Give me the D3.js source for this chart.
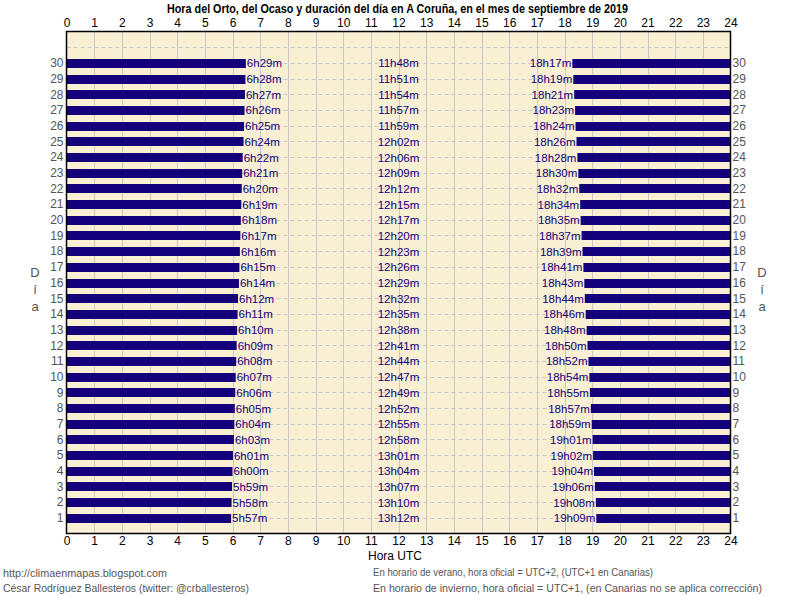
<!DOCTYPE html>
<html><head><meta charset="utf-8">
<script src="https://cdn.jsdelivr.net/npm/d3@7"></script>
<style>body{margin:0;background:#fff}svg{display:block}text{font-family:"Liberation Sans",Arial,sans-serif}</style>
</head><body>
<svg id="c" width="796" height="596"></svg>
<script>
const days = d3.range(1, 31);
const sunrise = ["5h57m","5h58m","5h59m","6h00m","6h01m","6h03m","6h04m","6h05m","6h06m","6h07m","6h08m","6h09m","6h10m","6h11m","6h12m","6h14m","6h15m","6h16m","6h17m","6h18m","6h19m","6h20m","6h21m","6h22m","6h24m","6h25m","6h26m","6h27m","6h28m","6h29m"];
const dayLength = ["13h12m","13h10m","13h07m","13h04m","13h01m","12h58m","12h55m","12h52m","12h49m","12h47m","12h44m","12h41m","12h38m","12h35m","12h32m","12h29m","12h26m","12h23m","12h20m","12h17m","12h15m","12h12m","12h09m","12h06m","12h02m","11h59m","11h57m","11h54m","11h51m","11h48m"];
const sunset = ["19h09m","19h08m","19h06m","19h04m","19h02m","19h01m","18h59m","18h57m","18h55m","18h54m","18h52m","18h50m","18h48m","18h46m","18h44m","18h43m","18h41m","18h39m","18h37m","18h35m","18h34m","18h32m","18h30m","18h28m","18h26m","18h24m","18h23m","18h21m","18h19m","18h17m"];
const hourTicks = d3.range(0, 25);

const parse = s => { const m = s.match(/(\d+)h(\d+)m/); return +m[1] + +m[2]/60; };
const data = days.map((d,i)=>({day:d, rise:parse(sunrise[i]), set:parse(sunset[i]), riseL:sunrise[i], lenL:dayLength[i], setL:sunset[i]}));

const svg = d3.select("#c");
const L=66.5, R=730.5, T=31.5, B=533.5;
const x = d3.scaleLinear().domain([0,24]).range([L,R]);
const y = d3.scaleLinear().domain([0,32]).range([B,T]);
const navy = "#14007a";

svg.append("rect").attr("x",L).attr("y",T).attr("width",R-L).attr("height",B-T).attr("fill","#f9f0d3");

// vertical grid
svg.append("g").selectAll("line").data(hourTicks.slice(1,-1)).join("line")
  .attr("x1",d=>Math.round(x(d))+0.5).attr("x2",d=>Math.round(x(d))+0.5)
  .attr("y1",T).attr("y2",B).attr("stroke","#c8c8c8").attr("stroke-width",1);
// horizontal dashed grid
svg.append("g").selectAll("line").data(d3.range(1,32)).join("line")
  .attr("x1",L).attr("x2",R)
  .attr("y1",d=>Math.round(y(d))+0.5).attr("y2",d=>Math.round(y(d))+0.5)
  .attr("stroke","#c8c8c8").attr("stroke-dasharray","4,3");

const bh = 9;
const g = svg.append("g");
g.selectAll("rect.r").data(data).join("rect").attr("class","r")
  .attr("x",x(0)).attr("y",d=>Math.round(y(d.day))-bh/2+0.5).attr("width",d=>x(d.rise)-x(0)).attr("height",bh).attr("fill",navy);
g.selectAll("rect.s").data(data).join("rect").attr("class","s")
  .attr("x",d=>x(d.set)).attr("y",d=>Math.round(y(d.day))-bh/2+0.5).attr("width",d=>x(24)-x(d.set)).attr("height",bh).attr("fill",navy);

const fs = "11.5px";
g.selectAll("text.rl").data(data).join("text").attr("class","rl")
  .attr("x",d=>x(d.rise)+1).attr("y",d=>y(d.day)+4.5).attr("font-size",fs).attr("fill",navy).text(d=>d.riseL);
g.selectAll("text.ll").data(data).join("text").attr("class","ll")
  .attr("x",x(12)).attr("y",d=>y(d.day)+4.5).attr("text-anchor","middle").attr("font-size",fs).attr("fill",navy).text(d=>d.lenL);
g.selectAll("text.sl").data(data).join("text").attr("class","sl")
  .attr("x",d=>x(d.set)-1).attr("y",d=>y(d.day)+4.5).attr("text-anchor","end").attr("font-size",fs).attr("fill",navy).text(d=>d.setL);

svg.append("rect").attr("x",L).attr("y",T).attr("width",R-L).attr("height",B-T).attr("fill","none").attr("stroke","#000").attr("stroke-width",1.5);

// axes
const topAx = svg.append("g").attr("transform",`translate(0,${T})`).call(d3.axisTop(x).tickValues(hourTicks).tickFormat(d3.format("d")).tickSize(0).tickPadding(5));
const botAx = svg.append("g").attr("transform",`translate(0,${B})`).call(d3.axisBottom(x).tickValues(hourTicks).tickFormat(d3.format("d")).tickSize(0).tickPadding(3));
[topAx,botAx].forEach(a=>{a.select(".domain").remove(); a.selectAll("text").attr("font-size","12px").attr("fill","#000").attr("font-family","Liberation Sans, Arial, sans-serif");});
const leftAx = svg.append("g").attr("transform",`translate(${L},0)`).call(d3.axisLeft(y).tickValues(days).tickFormat(d3.format("d")).tickSize(0).tickPadding(3));
const rightAx = svg.append("g").attr("transform",`translate(${R},0)`).call(d3.axisRight(y).tickValues(days).tickFormat(d3.format("d")).tickSize(0).tickPadding(2));
[leftAx,rightAx].forEach(a=>{a.select(".domain").remove(); a.selectAll("text").attr("font-size","12px").attr("fill","#555").attr("font-family","Liberation Sans, Arial, sans-serif");});

// titles
svg.append("text").attr("x",397.5).attr("y",12.5).attr("text-anchor","middle").attr("font-size","12px").attr("font-weight","bold").attr("fill","#000")
  .attr("textLength",461).attr("lengthAdjust","spacingAndGlyphs")
  .text("Hora del Orto, del Ocaso y duración del día en A Coruña, en el mes de septiembre de 2019");
svg.append("text").attr("x",395).attr("y",560).attr("text-anchor","middle").attr("font-size","12px").attr("fill","#000").text("Hora UTC");
["D","í","a"].forEach((c,i)=>{
  svg.append("text").attr("x",35).attr("y",277+i*17).attr("text-anchor","middle").attr("font-size","13px").attr("fill","#555").text(c);
  svg.append("text").attr("x",762).attr("y",277+i*17).attr("text-anchor","middle").attr("font-size","13px").attr("fill","#555").text(c);
});
const foot = [[3,577,"http://climaenmapas.blogspot.com",164],[3,592,"César Rodríguez Ballesteros (twitter: @crballesteros)",246],
  [373,576,"En horario de verano, hora oficial = UTC+2, (UTC+1 en Canarias)",280],[373,592,"En horario de invierno, hora oficial = UTC+1, (en Canarias no se aplica corrección)",389]];
foot.forEach(f=>svg.append("text").attr("x",f[0]).attr("y",f[1]).attr("font-size","11.5px").attr("fill","#555")
  .attr("textLength",f[3]).attr("lengthAdjust","spacingAndGlyphs").text(f[2]));
</script>
</body></html>
